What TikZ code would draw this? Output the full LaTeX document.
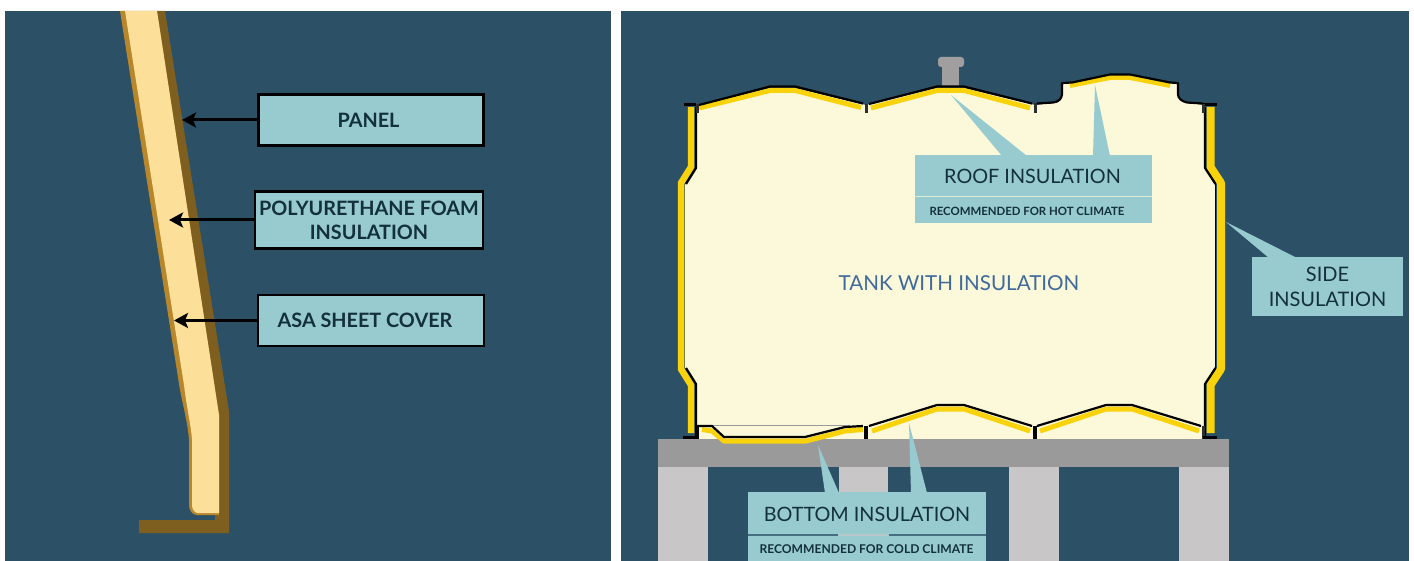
\documentclass[tikz,border=0pt]{standalone}
\usepackage{fontspec}
\setmainfont{Lato}
\usetikzlibrary{arrows.meta}
\definecolor{bgpanel}{HTML}{2C5166}
\definecolor{callout}{HTML}{97CBD0}
\definecolor{inktext}{HTML}{14303C}
\definecolor{tankcream}{HTML}{FCF8DA}
\definecolor{insyellow}{HTML}{F8D30C}
\definecolor{slab}{HTML}{9B9A9A}
\definecolor{legcol}{HTML}{C9C6C8}
\definecolor{brownD}{HTML}{7E5F20}
\definecolor{brownL}{HTML}{B8862B}
\definecolor{foam}{HTML}{FCDF98}
\definecolor{tanktitle}{HTML}{3F6A9C}
\tikzset{
  x=1pt,y=-1pt,
  labelbox/.style={draw=black,line width=2.2pt,fill=callout,inner sep=0pt,align=center,text=inktext,
    font=\fontsize{19.8}{24}\selectfont\bfseries},
  callbox/.style={fill=callout,inner sep=0pt,align=center,text=inktext,
    font=\fontsize{20}{25}\selectfont},
  calltext/.style={inner sep=0pt,text=inktext,font=\fontsize{19.8}{25}\selectfont},
  subnote/.style={inner sep=0pt,text=inktext,font=\fontsize{11.4}{14}\selectfont\bfseries},
  leader/.style={draw=black,line width=3pt,-{Stealth[length=14pt,width=15pt,inset=3pt]}},
  blackline/.style={draw=black,line width=2.2pt,line join=round},
  insline/.style={draw=insyellow,line width=5pt,line join=round},
  seam/.style={draw=black,line width=4.5pt},
  seamthin/.style={draw=black!70!slab,line width=3pt},
}
\begin{document}
\begin{tikzpicture}
\useasboundingbox (0,0) rectangle (1414,561);
\fill[white] (0,0) rectangle (1414,561);
\fill[bgpanel] (5,11) rectangle (611,561);
\fill[bgpanel] (621,11) rectangle (1409,561);

% ---- panel section
\fill[brownD] (157,11) -- (165,11) -- (228,405) -- (229,412) -- (229,533) -- (139,533) -- (139,520)
  -- (215,520) -- (215,415) -- cycle;
\fill[brownL] (120,11) -- (157,11) -- (219,415) -- (219,515) -- (197,515)
  .. controls (192,515) and (189,510) .. (189,505) -- (189,440)
  .. controls (188,425) and (184,410) .. (180,390) -- cycle;
\fill[foam] (125,11) -- (157,11) -- (219,415) -- (219,513) -- (198,513)
  .. controls (195,513) and (192,510) .. (192,505) -- (192,440)
  .. controls (191,425) and (187,410) .. (184,385) -- cycle;

\node[labelbox,minimum width=225pt,minimum height=51pt] (panelbox) at (371,120) {\kern-5pt PANEL};
\node[labelbox,minimum width=228pt,minimum height=57pt] (foambox) at (369,220) {POLYURETHANE FOAM\\INSULATION};
\node[labelbox,minimum width=226pt,minimum height=51pt] (asabox) at (371,320.5) {\kern-12pt ASA SHEET COVER};
\coordinate (panelpt) at (182,120);
\coordinate (foampt) at (169,220);
\coordinate (asapt) at (174,320.5);
\draw[leader] (panelbox.west) -- (panelpt);
\draw[leader] (foambox.west) -- (foampt);
\draw[leader] (asabox.west) -- (asapt);

% ---- tank
\fill[tankcream] (696,107) -- (770,88) -- (795,88) -- (866,105) -- (937,88) -- (964,88) -- (1035,105)
  -- (1055,103) .. controls (1060,102) and (1062,98) .. (1062,95) -- (1062,84) -- (1110,75) -- (1130,75)
  -- (1178,84) -- (1178,95) .. controls (1178,99) and (1181,102) .. (1186,103) -- (1205,105)
  -- (1205,168) -- (1215,183) -- (1215,370) -- (1205,385) -- (1205,439)
  -- (696,439) -- (696,385) -- (685,368) -- (685,185) -- (696,168) -- cycle;

% slab and legs
\fill[legcol] (658,460) rectangle (708,561);
\fill[legcol] (839,460) rectangle (888,561);
\fill[legcol] (1009,460) rectangle (1059,561);
\fill[legcol] (1179,460) rectangle (1229,561);
\fill[slab] (658,439) rectangle (1229,467);

% vent
\fill[slab!90!legcol] (942,62) rectangle (959,86);
\fill[slab!90!legcol,rounded corners=3pt] (938,57) rectangle (964,67);

% walls: yellow
\draw[insline,line width=6.5pt] (691,107) -- (691,167) -- (681,183) -- (681,369) -- (691,385) -- (691,433);
\draw[insline,line width=8pt] (1210.5,107) -- (1210.5,167) -- (1221,183) -- (1221,369) -- (1210.5,385) -- (1210.5,433);
% walls: black
\draw[blackline] (696,107) -- (696,168) -- (686,184);
\draw[blackline] (686,368) -- (696,384) -- (696,436);
\draw[blackline] (1205,107) -- (1205,168) -- (1215.5,184);
\draw[blackline] (1215.5,368) -- (1205,384) -- (1205,436);
\draw[black,line width=1.1pt] (1215.5,184) -- (1215.5,368);

% roof: yellow
\draw[insline] (699,108) -- (770,90.5) -- (795,90.5) -- (861,107.5);
\draw[insline] (871,108) -- (937,90.5) -- (964,90.5) -- (1030,108);
\draw[insline] (1070,85.5) -- (1110,77.5) -- (1130,77.5) -- (1170,85.5);
% roof: black
\draw[blackline] (684,104.5) -- (696,104.5);
\draw[blackline] (699,105) -- (770,86.5) -- (795,86.5) -- (863,103.5);
\draw[blackline] (869,104) -- (937,86.5) -- (964,86.5) -- (1032,103.5);
\draw[blackline] (1037,103.5) -- (1053,102.5) .. controls (1059,102) and (1062,98) .. (1062,94) -- (1062,83) -- (1072,82.5)
  -- (1110,74.5) -- (1130,74.5) -- (1170,82.5) -- (1178,83) -- (1178,94) .. controls (1178,98) and (1181,101) .. (1187,102.5) -- (1203,103.5);
\draw[blackline] (1203,104.5) -- (1217,104.5);
\draw[seamthin] (697,104) -- (697,113);
\draw[seamthin] (866,104) -- (866,113);
\draw[seamthin] (1035,103) -- (1035,113);
\draw[seamthin] (1203,104) -- (1203,113);

% bottom: thin line, yellow, black
\draw[slab,line width=0.7pt] (700,425) -- (850,425);
\draw[insline] (702,429.5) -- (712,431) -- (724,441) -- (806,441) -- (845,431) -- (863,429.5);
\draw[insline] (872,431) -- (937,409) -- (964,409) -- (1030,431);
\draw[insline] (1040,431) -- (1106,409) -- (1132,409) -- (1199,431);
\draw[blackline] (697,426) -- (712,426) -- (724,437) -- (805,437) -- (845,427) -- (863,426);
\draw[blackline] (869,426) -- (937,405) -- (964,405) -- (1032,426);
\draw[blackline] (1037,426) -- (1106,405) -- (1132,405) -- (1201,426);
\draw[seam] (866,426) -- (866,439);
\draw[seam] (1035,426) -- (1035,439);
\draw[seamthin] (1203,426) -- (1203,439);
\draw[seam] (697,426) -- (697,439);
\draw[draw=black,line width=3pt] (683,437.5) -- (697,437.5);
\draw[draw=black,line width=3pt] (1203,437.5) -- (1217,437.5);

\node[inner sep=0pt,text=tanktitle,font=\fontsize{20.6}{25}\selectfont] (tanklabel) at (959,283) {TANK WITH INSULATION};

% callouts
\fill[callout] (951,95) -- (1002,156) -- (1027,156) -- cycle;
\fill[callout] (1095,85) -- (1093,156) -- (1110,156) -- cycle;
\node[callbox,minimum width=237pt,minimum height=68pt] (roofbox) at (1033.5,189) {};
\node[calltext] (rooftext) at (1032.5,176) {ROOF INSULATION};
\draw[tankcream!70!callout,line width=0.8pt] (roofbox.west |- 0,196) -- (roofbox.east |- 0,196);
\node[subnote] (roofnote) at (1027,211) {RECOMMENDED FOR HOT CLIMATE};

\fill[callout] (1226,222) -- (1269,258) -- (1297,258) -- cycle;
\node[callbox,minimum width=151pt,minimum height=59pt] (sidebox) at (1327.5,287) {SIDE\\INSULATION};

\fill[callout] (818,445) -- (825,493) -- (839,493) -- cycle;
\fill[callout] (909,423) -- (911,493) -- (927,493) -- cycle;
\node[callbox,minimum width=238pt,minimum height=69pt] (bottombox) at (867,526.5) {};
\node[calltext] (bottomtext) at (867,514) {BOTTOM INSULATION};
\draw[bgpanel!75!callout,line width=1.2pt] (748,535) -- (838,535);
\draw[legcol!70!callout,line width=1.2pt] (839,535) -- (888,535);
\draw[bgpanel!75!callout,line width=1.2pt] (889,535) -- (986,535);
\node[subnote,font=\fontsize{12.1}{14}\selectfont\bfseries] (bottomnote) at (866.5,549) {RECOMMENDED FOR COLD CLIMATE};
\end{tikzpicture}
\end{document}
